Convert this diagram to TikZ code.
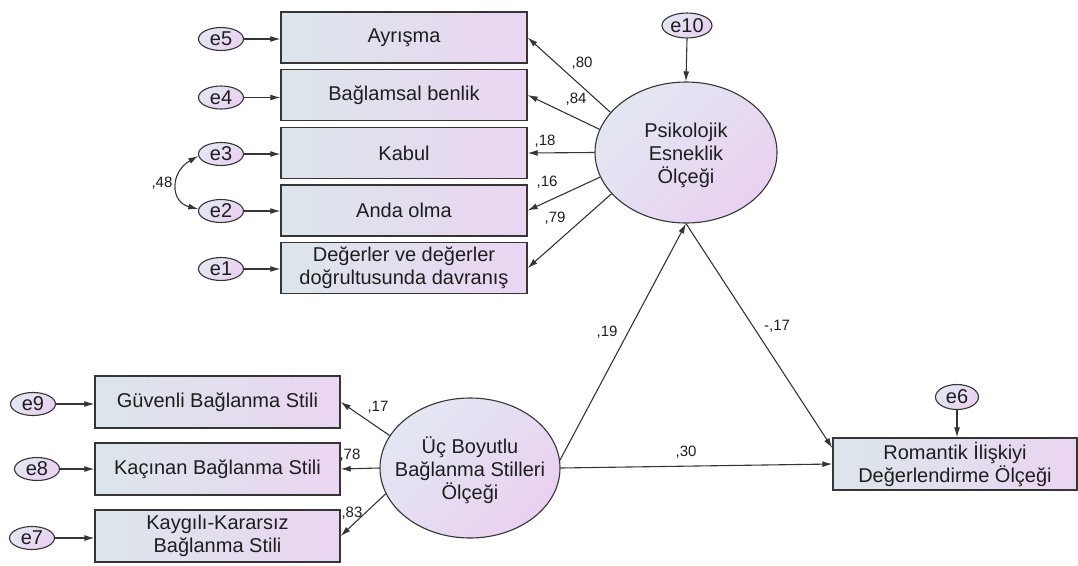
\documentclass[tikz,border=0pt]{standalone}
\usepackage{fontspec}
\setmainfont{Liberation Sans}
\usetikzlibrary{arrows.meta,shapes.geometric,calc}
\definecolor{boxL}{HTML}{DCE6EA}
\definecolor{boxR}{HTML}{EAD5F2}
\definecolor{ellT}{HTML}{E3E7F2}
\definecolor{ellB}{HTML}{E9D1F1}
\definecolor{edge}{HTML}{353535}
\definecolor{txt}{HTML}{1E1E1E}
\begin{document}
\begin{tikzpicture}[x=1pt,y=-1pt,
  obs/.style={draw=edge,line width=1.4pt,left color=boxL,right color=boxR,minimum width=246pt,minimum height=51pt,inner sep=0pt,align=center,font=\fontsize{20}{23}\selectfont,text=txt},
  lat/.style={ellipse,draw=edge,line width=1.1pt,top color=ellT,bottom color=ellB,shading angle=45,inner sep=0pt},
  lattext/.style={align=center,font=\fontsize{20}{23}\selectfont,text=txt,inner sep=0pt},
  err/.style={ellipse,draw=edge,line width=1.1pt,top color=ellT,bottom color=ellB,shading angle=45,minimum width=45pt,minimum height=23pt,inner sep=0pt,font=\fontsize{20}{23}\selectfont,text=txt},
  conn/.style={draw=edge,line width=1.1pt,-{Latex[length=10pt,width=6pt]}},
  biconn/.style={draw=edge,line width=1.1pt,{Latex[length=10pt,width=6pt]}-{Latex[length=10pt,width=6pt]}},
  coef/.style={font=\fontsize{15}{17}\selectfont,text=txt,inner sep=0pt},
]
\useasboundingbox (0,0) rectangle (1078,565);

% observed variables (top)
\node[obs] (ay) at (404,37.5) {Ayrışma};
\node[obs] (bb) at (404,95) {Bağlamsal benlik};
\node[obs] (ka) at (404,153) {Kabul};
\node[obs] (ao) at (404,210.5) {Anda olma};
\node[obs] (dd) at (404,268) {Değerler ve değerler\\doğrultusunda davranış};

% observed variables (bottom)
\node[obs,minimum width=245pt,minimum height=52pt] (gv) at (217.5,402) {Güvenli Bağlanma Stili};
\node[obs,minimum width=245pt,minimum height=52pt] (kc) at (217.5,469) {Kaçınan Bağlanma Stili};
\node[obs,minimum width=245pt,minimum height=52pt] (kk) at (217.5,536) {Kaygılı-Kararsız\\Bağlanma Stili};
\node[obs,minimum width=244pt,minimum height=52pt] (ro) at (955,464) {Romantik İlişkiyi\\Değerlendirme Ölçeği};

% latent variables
\node[lat,minimum width=182pt,minimum height=141pt] (psy) at (686,152.5) {};
\node[lattext] (psyt) at (686,155) {Psikolojik\\Esneklik\\Ölçeği};
\node[lat,minimum width=180pt,minimum height=140pt] (uc) at (470,468) {};
\node[lattext] (uct) at (470,470) {Üç Boyutlu\\Bağlanma Stilleri\\Ölçeği};

% errors
\node[err] (e5) at (221,39) {e5};
\node[err] (e4) at (221,97.5) {e4};
\node[err] (e3) at (221,154) {e3};
\node[err] (e2) at (221,211) {e2};
\node[err] (e1) at (221,269) {e1};
\node[err,minimum width=50pt,minimum height=25pt] (e10) at (687,25.5) {e10};
\node[err,minimum width=43pt,minimum height=25pt] (e6) at (957,397) {e6};
\node[err] (e9) at (33,404) {e9};
\node[err] (e8) at (37,469) {e8};
\node[err] (e7) at (32,538) {e7};

% error arrows
\draw[conn] (e5.east) -- (e5.east -| ay.west);
\draw[conn] (e4.east) -- (e4.east -| bb.west);
\draw[conn] (e3.east) -- (e3.east -| ka.west);
\draw[conn] (e2.east) -- (e2.east -| ao.west);
\draw[conn] (e1.east) -- (e1.east -| dd.west);
\draw[conn] (e9.east) -- (e9.east -| gv.west);
\draw[conn] (e8.east) -- (e8.east -| kc.west);
\draw[conn] (e7.east) -- (e7.east -| kk.west);
\draw[conn] (e10.south) -- (psy.north);
\draw[conn] (e6.south) -- (e6.south |- ro.north);

% covariance
\draw[biconn] (e3.185) .. controls (170,172) and (170,202) .. (e2.175);
\node[coef] (l48) at (162,183) {,48};

% loadings
\draw[conn] (psy.152) -- (ay.east);
\draw[conn] (psy.165) -- (bb.east);
\draw[conn] (psy.180) -- (ka.east);
\draw[conn] (psy.196) -- (ao.east);
\draw[conn] (psy.209) -- (dd.east);
\node[coef] (l80) at (582,63) {,80};
\node[coef] (l84) at (576,99) {,84};
\node[coef] (l18) at (545,141) {,18};
\node[coef] (l16) at (547,182) {,16};
\node[coef] (l79) at (555,218) {,79};

\draw[conn] (uc.158) -- (gv.east);
\draw[conn] (uc.180) -- (kc.east);
\draw[conn] (uc.197) -- (kk.east);
\node[coef] (l17) at (378,407) {,17};
\node[coef] (l78) at (350,455) {,78};
\node[coef] (l83) at (352,513) {,83};

% structural paths
\draw[conn] (uc.5) -- (psy.south);
\draw[conn] (psy.south) -- ($(ro.north west)!0.2!(ro.south west)$);
\draw[conn] (uc.east) -- (ro.west);
\node[coef] (l19) at (607,332) {,19};
\node[coef] (lm17) at (777,326) {-,17};
\node[coef] (l30) at (686,452) {,30};
\end{tikzpicture}
\end{document}
